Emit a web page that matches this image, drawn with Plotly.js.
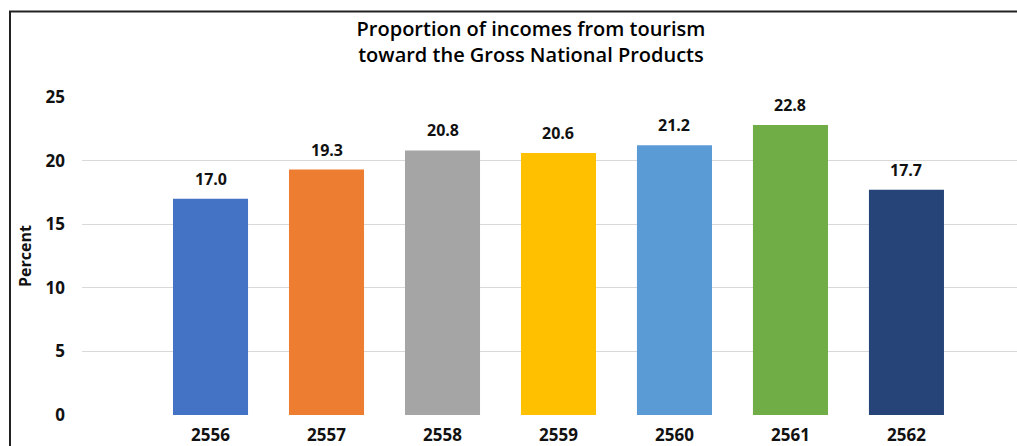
<!DOCTYPE html>
<html>
<head>
<meta charset="utf-8">
<script src="https://cdn.plot.ly/plotly-3.0.1.min.js"></script>
<style>html,body{margin:0;padding:0;background:#fff;}#chart{width:1017px;height:446px;}</style>
</head>
<body>
<div id="chart"></div>
<script>
const years = ["2556", "2557", "2558", "2559", "2560", "2561", "2562"];
const percentValues = [17.0, 19.3, 20.8, 20.6, 21.2, 22.8, 17.7];
const barColors = ["#4472C4", "#ED7D31", "#A5A5A5", "#FFC000", "#5B9BD5", "#70AD47", "#264478"];
const yTicks = [0, 5, 10, 15, 20, 25];

const FONT = "Open Sans, Noto Sans, sans-serif";

const trace = {
  type: "bar",
  x: years,
  y: percentValues,
  marker: {color: barColors},
  hoverinfo: "x+y"
};

// value labels placed through the category axis (index position of each year)
const valueLabels = years.map((yr, i) => ({
  x: i,
  y: percentValues[i],
  xref: "x",
  yref: "y",
  text: percentValues[i].toFixed(1),
  showarrow: false,
  xanchor: "center",
  yanchor: "bottom",
  yshift: 7,
  font: {family: FONT, size: 16, color: "#111", weight: "bold"}
}));

const layout = {
  width: 1017,
  height: 446,
  margin: {l: 82, r: 0, t: 97, b: 31},
  paper_bgcolor: "#fff",
  plot_bgcolor: "#fff",
  showlegend: false,
  bargap: 0.353,
  title: {
    text: "Proportion of incomes from tourism<br>toward the Gross National Products",
    font: {family: FONT, size: 20, color: "#000", weight: 600},
    x: 531 / 1017,
    xref: "container",
    xanchor: "center",
    y: 1 - 36 / 446,
    yref: "container",
    yanchor: "top"
  },
  xaxis: {
    type: "category",
    range: [-1.108, 6.953],
    showgrid: false,
    zeroline: false,
    showline: false,
    ticks: "",
    tickfont: {family: FONT, size: 17, color: "#111", weight: "bold"},
    ticklabelstandoff: 8
  },
  yaxis: {
    range: [0, 25],
    tickvals: yTicks,
    ticktext: yTicks.map(String),
    showgrid: true,
    gridcolor: "#d9d9d9",
    gridwidth: 1,
    zeroline: false,
    showline: false,
    ticks: "",
    tickfont: {family: FONT, size: 17, color: "#111", weight: "bold"},
    ticklabelstandoff: 16,
    title: {
      text: "Percent",
      font: {family: FONT, size: 16, color: "#111", weight: "bold"},
      standoff: 9
    },
    automargin: false
  },
  annotations: valueLabels,
  shapes: [{
    type: "rect",
    xref: "paper", yref: "paper",
    x0: (10 - 82) / 935, x1: 1.2,
    y0: -0.5, y1: (415 - 11.5) / 318,
    line: {color: "#222", width: 2},
    fillcolor: "rgba(0,0,0,0)",
    layer: "above"
  }]
};

Plotly.newPlot("chart", [trace], layout, {displayModeBar: false, staticPlot: true});
</script>
</body>
</html>
